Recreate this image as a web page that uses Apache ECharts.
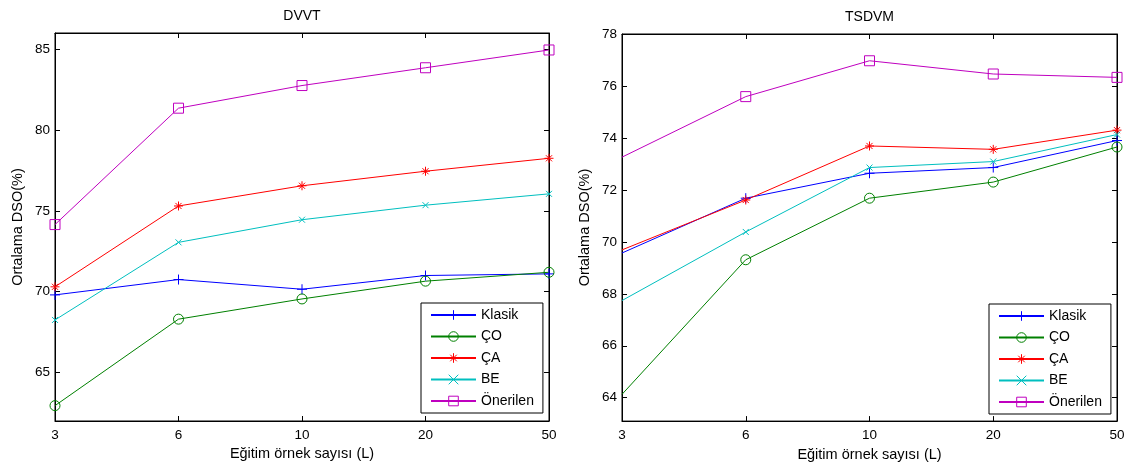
<!DOCTYPE html>
<html>
<head>
<meta charset="utf-8">
<script src="https://cdn.jsdelivr.net/npm/echarts@6/dist/echarts.min.js"></script>
<style>
html,body{margin:0;padding:0;background:#fff;}
#c{width:1133px;height:467px;}
</style>
</head>
<body>
<div id="c"></div>
<script>
const categories = ['3', '6', '10', '20', '50'];
const seriesNames = ['Klasik', 'ÇO', 'ÇA', 'BE', 'Önerilen'];

const dvvtKlasik   = [69.8, 70.75, 70.15, 71.0, 71.1];
const dvvtCO       = [62.95, 68.3, 69.55, 70.65, 71.2];
const dvvtCA       = [70.3, 75.3, 76.55, 77.45, 78.25];
const dvvtBE       = [68.25, 73.05, 74.45, 75.35, 76.05];
const dvvtOnerilen = [74.15, 81.35, 82.75, 83.85, 84.95];

const tsdvmKlasik   = [69.57, 71.68, 72.64, 72.86, 73.9];
const tsdvmCO       = [64.13, 69.31, 71.68, 72.3, 73.65];
const tsdvmCA       = [69.69, 71.61, 73.69, 73.56, 74.3];
const tsdvmBE       = [67.74, 70.38, 72.86, 73.09, 74.13];
const tsdvmOnerilen = [73.26, 75.59, 76.97, 76.46, 76.33];

const dvvtTicks  = [65, 70, 75, 80, 85];
const tsdvmTicks = [64, 66, 68, 70, 72, 74, 76, 78];

const titles = ['DVVT', 'TSDVM'];
const xName = 'Eğitim örnek sayısı (L)';
const yName = 'Ortalama DSO(%)';

const FONT = '"Liberation Sans", Arial, sans-serif';
const colors = ['#0000ff', '#008000', '#ff0000', '#00bfbf', '#bf00bf'];
const symbols = [
  'path://M5,0L5,10M0,5L10,5',
  'circle',
  'path://M5,0L5,10M0,5L10,5M1.6,1.6L8.4,8.4M8.4,1.6L1.6,8.4',
  'path://M0,0L10,10M10,0L0,10',
  'rect'
];
const symbolSizes = [10, 10, 9, 6, 10];

const panels = [
  {data: [dvvtKlasik, dvvtCO, dvvtCA, dvvtBE, dvvtOnerilen], ticks: dvvtTicks, min: 62, max: 86, firstMarker: true},
  {data: [tsdvmKlasik, tsdvmCO, tsdvmCA, tsdvmBE, tsdvmOnerilen], ticks: tsdvmTicks, min: 63.1, max: 78, firstMarker: false}
];

const grids = [
  {left: 55, top: 33, width: 494, height: 388},
  {left: 622, top: 34, width: 495, height: 388}
];

const txt = {fontFamily: FONT, color: '#000'};

const option = {
  animation: false,
  backgroundColor: '#fff',
  textStyle: {fontFamily: FONT},
  title: titles.map((t, i) => ({
    text: t,
    left: grids[i].left + grids[i].width / 2,
    textAlign: 'center',
    top: 9 + i,
    padding: 0,
    textStyle: Object.assign({fontSize: 14, fontWeight: 'normal'}, txt)
  })),
  grid: grids.map(g => Object.assign({show: true, borderColor: '#000', borderWidth: 1, backgroundColor: '#fff', containLabel: false}, g)),
  legend: [
    {left: 421, top: 303, orient: 'vertical'},
    {left: 989, top: 304, orient: 'vertical'}
  ].map(l => Object.assign(l, {
    data: seriesNames,
    backgroundColor: '#fff',
    borderColor: '#000',
    borderWidth: 1,
    padding: [5, 9, 5, 9],
    itemWidth: 45,
    itemHeight: 12,
    itemGap: 7.5,
    selectedMode: false,
    itemStyle: {borderWidth: 1},
    textStyle: Object.assign({fontSize: 14}, txt)
  })),
  xAxis: [],
  yAxis: [],
  series: []
};

panels.forEach((p, i) => {
  const common = {
    gridIndex: i,
    type: 'category',
    data: categories,
    boundaryGap: false,
    axisLine: {lineStyle: {color: '#000', width: 1}},
    axisTick: {inside: true, length: 5, lineStyle: {color: '#000'}},
    splitLine: {show: false}
  };
  option.xAxis.push(Object.assign({}, common, {
    position: 'bottom',
    name: xName,
    nameLocation: 'middle',
    nameGap: 22,
    nameTextStyle: Object.assign({fontSize: 14.5}, txt),
    axisLabel: Object.assign({fontSize: 13.5, margin: 7}, txt)
  }));
  option.xAxis.push(Object.assign({}, common, {
    position: 'top',
    axisLabel: {show: false}
  }));
  const ycommon = {
    gridIndex: i,
    type: 'value',
    min: p.min,
    max: p.max,
    axisLine: {show: true, lineStyle: {color: '#000', width: 1}},
    axisTick: {show: true, inside: true, length: 5, lineStyle: {color: '#000'}, customValues: p.ticks},
    splitLine: {show: false}
  };
  option.yAxis.push(Object.assign({}, ycommon, {
    position: 'left',
    name: yName,
    nameLocation: 'middle',
    nameRotate: 90,
    nameGap: 30,
    nameTextStyle: Object.assign({fontSize: 14.5}, txt),
    axisLabel: Object.assign({fontSize: 13.5, margin: 5, customValues: p.ticks}, txt)
  }));
  option.yAxis.push(Object.assign({}, ycommon, {
    position: 'right',
    axisLabel: {show: false}
  }));
  p.data.forEach((vals, k) => {
    const items = vals.map((v, j) => (j === 0 && !p.firstMarker) ? {value: v, symbol: 'none'} : v);
    option.series.push({
      name: seriesNames[k],
      type: 'line',
      xAxisIndex: i * 2,
      yAxisIndex: i * 2,
      data: items,
      symbol: symbols[k],
      symbolSize: symbolSizes[k],
      showAllSymbol: true,
      lineStyle: {color: colors[k], width: 1},
      itemStyle: {color: 'transparent', borderColor: colors[k], borderWidth: 1},
      emphasis: {disabled: true}
    });
  });
});

const chart = echarts.init(document.getElementById('c'), null, {renderer: 'canvas'});
chart.setOption(option);
</script>
</body>
</html>
